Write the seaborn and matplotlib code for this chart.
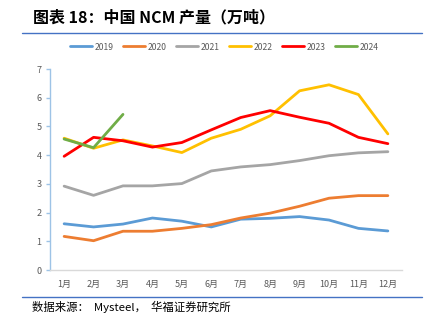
import matplotlib
matplotlib.use("Agg")
import matplotlib.pyplot as plt
import seaborn as sns
import pandas as pd
from matplotlib.lines import Line2D

months = ["1月", "2月", "3月", "4月", "5月", "6月", "7月", "8月", "9月", "10月", "11月", "12月"]
y2019 = [1.61, 1.50, 1.60, 1.81, 1.70, 1.50, 1.77, 1.80, 1.86, 1.74, 1.45, 1.36]
y2020 = [1.17, 1.02, 1.35, 1.35, 1.45, 1.58, 1.81, 1.98, 2.22, 2.50, 2.59, 2.59]
y2021 = [2.92, 2.60, 2.93, 2.93, 3.01, 3.45, 3.59, 3.67, 3.81, 3.98, 4.08, 4.12]
y2022 = [4.59, 4.24, 4.53, 4.32, 4.09, 4.59, 4.90, 5.37, 6.24, 6.45, 6.11, 4.74]
y2023 = [3.96, 4.62, 4.50, 4.28, 4.44, 4.88, 5.31, 5.55, 5.32, 5.11, 4.62, 4.40]
y2024 = [4.56, 4.26, 5.42]
years = ["2019", "2020", "2021", "2022", "2023", "2024"]
colors = ["#5B9BD5", "#ED7D31", "#A5A5A5", "#FFC000", "#FF0000", "#70AD47"]

series = [y2019, y2020, y2021, y2022, y2023, y2024]
rows = []
for yr, vals in zip(years, series):
    for i, v in enumerate(vals):
        rows.append({"year": yr, "m": i, "v": v})
df = pd.DataFrame(rows)

sns.set_theme(style="white")
plt.rcParams["font.family"] = ["Noto Sans CJK SC", "DejaVu Sans"]

fig = plt.figure(figsize=(4.31, 3.25), dpi=100)
ax = fig.add_axes([50/431, 55/325, 352/431, 201/325])

sns.lineplot(data=df, x="m", y="v", hue="year", palette=dict(zip(years, colors)),
             linewidth=2.0, sort=False, legend=False, ax=ax)

ax.set_xlim(-0.48, 11.48)
ax.set_ylim(0, 7)
ax.set_xticks(range(12))
ax.set_xticklabels(months)
ax.set_yticks(range(8))
ax.set_xlabel("")
ax.set_ylabel("")
for s in ["top", "right"]:
    ax.spines[s].set_visible(False)
ax.spines["left"].set_color("#9DC3E6")
ax.spines["left"].set_linewidth(1.0)
ax.spines["bottom"].set_color("#D9D9D9")
ax.spines["bottom"].set_linewidth(1.0)
ax.tick_params(axis="y", which="both", left=True, length=3, width=1, color="#9DC3E6",
               labelsize=6.5, labelcolor="#595959", pad=3)
ax.tick_params(axis="x", bottom=False, labelsize=6.5, labelcolor="#595959", pad=1)

handles = [Line2D([0], [0], color=c, lw=2.0) for c in colors]
fig.legend(handles, years, loc="center", bbox_to_anchor=(224/431, 1 - 47/325), ncol=6,
           frameon=False, fontsize=6.2, handlelength=2.6, handletextpad=0.25,
           columnspacing=1.1, labelcolor="#595959")

fig.text(33/431, 1 - 17/325, "图表 18：中国 NCM 产量（万吨）", fontsize=11.5, fontweight="bold",
         ha="left", va="center", color="#000000")
fig.add_artist(Line2D([22/431, 422/431], [1 - 33/325, 1 - 33/325], color="#4472C4", lw=1.0,
                      transform=fig.transFigure))
fig.add_artist(Line2D([22/431, 422/431], [1 - 297/325, 1 - 297/325], color="#4472C4", lw=1.0,
                      transform=fig.transFigure))
fig.text(32/431, 1 - 307/325, "数据来源：  Mysteel，  华福证券研究所", fontsize=8.2,
         ha="left", va="center", color="#000000")

fig.savefig("out.png", dpi=100)
